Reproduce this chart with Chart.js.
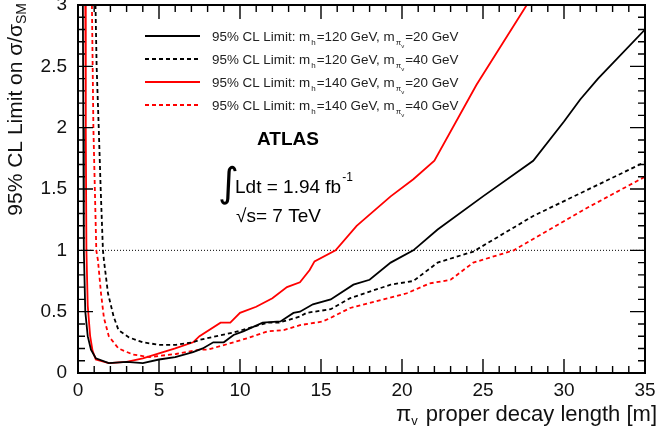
<!DOCTYPE html>
<html lang="en">
<head>
  <title>95% CL limit vs proper decay length</title>
  <script src="https://cdn.jsdelivr.net/npm/chart.js@4.4.1/dist/chart.umd.min.js"></script>
  <style>
    body {
      margin: 0;
      background-color: #fff;
    }
  </style>
</head>
<body>
  <canvas id="myChart" width="661" height="429"></canvas>

<script>
  // values (x = proper decay length in m, y = limit on sigma/sigma_SM)
  var blackSolidX = [0.30, 0.33, 0.36, 0.45, 0.6, 0.8, 1.1, 1.9, 3.0, 4.0, 5.0, 6.0, 7.1, 7.7, 8.35, 9.0, 9.6, 10.2, 11.4, 12.5, 13.3, 13.7, 14.5, 15.6, 17.0, 18.0, 19.3, 20.7, 22.2, 25.0, 28.1, 30.0, 31.0, 32.1, 35];
  var blackSolidY = [3.0, 2.0, 1.0, 0.5, 0.3, 0.19, 0.12, 0.08, 0.09, 0.08, 0.11, 0.13, 0.17, 0.20, 0.25, 0.25, 0.31, 0.34, 0.41, 0.42, 0.49, 0.50, 0.56, 0.60, 0.72, 0.76, 0.90, 1.0, 1.17, 1.44, 1.73, 2.05, 2.23, 2.40, 2.80];

  var blackDashX = [1.08, 1.15, 1.28, 1.4, 1.54, 1.6, 1.85, 2.2, 2.5, 3.15, 4.0, 5.0, 6.05, 7.1, 7.5, 9.6, 11.7, 12.4, 13.7, 14.1, 15.6, 16.8, 19.3, 20.7, 22.2, 24.4, 28.1, 35];
  var blackDashY = [3.0, 2.5, 2.0, 1.5, 1.0, 0.92, 0.65, 0.46, 0.35, 0.29, 0.25, 0.23, 0.23, 0.25, 0.27, 0.33, 0.41, 0.41, 0.46, 0.49, 0.52, 0.61, 0.72, 0.75, 0.90, 0.99, 1.28, 1.72];

  var redSolidX = [0.45, 0.48, 0.52, 0.6, 0.75, 0.9, 1.1, 1.9, 3.0, 4.0, 5.0, 6.0, 7.1, 7.5, 8.8, 9.4, 10.0, 11.0, 12.0, 12.9, 13.7, 14.3, 14.6, 15.9, 17.2, 19.3, 20.7, 22.0, 24.6, 27.7];
  var redSolidY = [3.0, 2.0, 1.0, 0.55, 0.3, 0.18, 0.11, 0.08, 0.09, 0.12, 0.16, 0.20, 0.25, 0.30, 0.41, 0.41, 0.49, 0.54, 0.61, 0.70, 0.74, 0.84, 0.91, 1.0, 1.20, 1.44, 1.58, 1.73, 2.35, 3.0];

  var redDashX = [0.86, 0.95, 1.13, 1.23, 1.42, 1.6, 1.9, 2.5, 3.4, 4.4, 6.05, 7.5, 8.0, 9.6, 10.6, 11.7, 12.7, 13.7, 15.1, 15.6, 16.8, 20.3, 21.7, 23.0, 24.4, 26.9, 31.2, 35];
  var redDashY = [3.0, 2.0, 1.0, 0.92, 0.65, 0.45, 0.30, 0.20, 0.15, 0.13, 0.155, 0.19, 0.19, 0.25, 0.29, 0.34, 0.35, 0.39, 0.42, 0.45, 0.53, 0.65, 0.73, 0.76, 0.90, 1.0, 1.33, 1.6];

  var refLineX = [0, 35];
  var refLineY = [1, 1];

  var legendMh = ['120', '120', '140', '140'];
  var legendMpi = ['20', '40', '20', '40'];

  var xTicks = [0, 5, 10, 15, 20, 25, 30, 35];
  var yTicks = [0, 0.5, 1, 1.5, 2, 2.5, 3];

  const FONT = "'Liberation Sans', Arial, Helvetica, sans-serif";

  function pts(xs, ys) {
    return xs.map(function (x, i) { return { x: x, y: ys[i] }; });
  }

  function curve(xs, ys, color, dash, legend) {
    return {
      data: pts(xs, ys),
      showLine: true,
      borderColor: color,
      backgroundColor: color,
      borderWidth: 1.8,
      borderDash: dash,
      pointRadius: 0,
      fill: false,
      tension: 0,
      inLegend: legend
    };
  }

  // draws a run of text pieces, each with its own size and vertical shift
  function richText(ctx, parts, x, y, measureOnly) {
    var cx = x;
    parts.forEach(function (p) {
      ctx.font = (p.bold ? 'bold ' : '') + p.size + 'px ' + (p.family || FONT);
      if (!measureOnly) ctx.fillText(p.t, cx, y + (p.dy || 0));
      cx += ctx.measureText(p.t).width + (p.gap || 0);
    });
    return cx - x;
  }

  const decorations = {
    id: 'decorations',
    afterDatasetsDraw(chart) {
      const ctx = chart.ctx;
      const a = chart.chartArea;
      const xs = chart.scales.x, ys = chart.scales.y;
      ctx.save();
      ctx.strokeStyle = '#000';
      ctx.lineWidth = 1.4;
      ctx.beginPath();
      for (let v = 0; v <= 35; v++) {
        const px = xs.getPixelForValue(v);
        const len = v % 5 === 0 ? 14 : 7;
        ctx.moveTo(px, a.bottom); ctx.lineTo(px, a.bottom - len);
        ctx.moveTo(px, a.top); ctx.lineTo(px, a.top + len);
      }
      for (let i = 0; i <= 30; i++) {
        const py = ys.getPixelForValue(i / 10);
        const len = i % 5 === 0 ? 15 : 7;
        ctx.moveTo(a.left, py); ctx.lineTo(a.left + len, py);
        ctx.moveTo(a.right, py); ctx.lineTo(a.right - len, py);
      }
      ctx.stroke();
      ctx.lineWidth = 2;
      ctx.strokeRect(a.left, a.top, a.right - a.left, a.bottom - a.top);

      // legend
      ctx.fillStyle = '#222';
      ctx.textBaseline = 'alphabetic';
      ctx.textAlign = 'left';
      let row = 0;
      chart.data.datasets.forEach(function (ds) {
        if (!ds.inLegend) return;
        const cy = 36 + row * 23;
        ctx.save();
        ctx.strokeStyle = ds.borderColor;
        ctx.lineWidth = ds.borderWidth;
        ctx.setLineDash(ds.borderDash || []);
        ctx.beginPath();
        ctx.moveTo(145, cy); ctx.lineTo(200, cy);
        ctx.stroke();
        ctx.restore();
        richText(ctx, [
          { t: '95% CL Limit: m', size: 13.4, gap: 1 },
          { t: 'h', size: 8, dy: 4, gap: 1 },
          { t: '=' + legendMh[row] + ' GeV, m', size: 13.4, gap: 1 },
          { t: 'π', size: 8, dy: 4 },
          { t: 'v', size: 6, dy: 7, gap: 1 },
          { t: '=' + legendMpi[row] + ' GeV', size: 13.4 }
        ], 212, cy + 5);
        row++;
      });

      // labels inside the frame
      ctx.fillStyle = '#000';
      richText(ctx, [{ t: 'ATLAS', size: 19, bold: true }], 257, 145);
      richText(ctx, [{ t: '∫', size: 40, family: "'DejaVu Sans', sans-serif" }], 218, 196);
      const w = richText(ctx, [{ t: 'Ldt = 1.94 fb', size: 19 }], 235, 193);
      richText(ctx, [{ t: '-1', size: 12 }], 235 + w + 1, 181);
      richText(ctx, [{ t: '√', size: 19 }, { t: 's= 7 TeV', size: 19 }], 236, 222);

      // x axis title, right aligned
      const xParts = [
        { t: 'π', size: 22 },
        { t: 'v', size: 13, dy: 4, gap: 2 },
        { t: ' proper decay length [m]', size: 22 }
      ];
      const xw = richText(ctx, xParts, 0, 0, true);
      ctx.fillStyle = '#111';
      richText(ctx, xParts, 657 - xw, 421);

      // y axis title, rotated, right aligned to the top
      const yParts = [
        { t: '95% CL Limit on σ/σ', size: 21 },
        { t: 'SM', size: 14, dy: 4 }
      ];
      const yw = richText(ctx, yParts, 0, 0, true);
      ctx.translate(22, 3 + yw);
      ctx.rotate(-Math.PI / 2);
      richText(ctx, yParts, 0, 0);
      ctx.restore();
    }
  };

  var datasets = [
    curve(blackSolidX, blackSolidY, '#000', [], true),
    curve(blackDashX, blackDashY, '#000', [4, 3], true),
    curve(redSolidX, redSolidY, '#ff0000', [], true),
    curve(redDashX, redDashY, '#ff0000', [4, 3], true),
    {
      data: pts(refLineX, refLineY),
      showLine: true,
      borderColor: '#000',
      borderWidth: 1,
      borderDash: [1, 2],
      pointRadius: 0,
      inLegend: false
    }
  ];

  var ctx = document.getElementById("myChart");
  var myChart = new Chart(ctx, {
    type: 'scatter',
    data: { datasets: datasets },
    plugins: [decorations],
    options: {
      responsive: false,
      animation: false,
      devicePixelRatio: 1,
      layout: { padding: { left: 0, right: 16, top: 5, bottom: 0 } },
      plugins: { legend: { display: false }, tooltip: { enabled: false } },
      scales: {
        x: {
          type: 'linear', min: 0, max: 35,
          afterBuildTicks: function (s) { s.ticks = xTicks.map(function (v) { return { value: v }; }); },
          ticks: { font: { family: FONT, size: 19 }, color: '#111', padding: 6, maxRotation: 0, autoSkip: false,
                   callback: function (v) { return String(v); } },
          grid: { display: false, drawTicks: false },
          border: { display: false },
          afterFit: function (s) { s.height = 56; s.paddingLeft = 0; s.paddingRight = 0; }
        },
        y: {
          type: 'linear', min: 0, max: 3,
          afterBuildTicks: function (s) { s.ticks = yTicks.map(function (v) { return { value: v }; }); },
          ticks: { font: { family: FONT, size: 19 }, color: '#111', padding: 11, autoSkip: false,
                   callback: function (v) { return String(v); } },
          grid: { display: false, drawTicks: false },
          border: { display: false },
          afterFit: function (s) { s.width = 78; s.paddingTop = 0; s.paddingBottom = 0; }
        }
      }
    }
  });
</script>
</body>
</html>
